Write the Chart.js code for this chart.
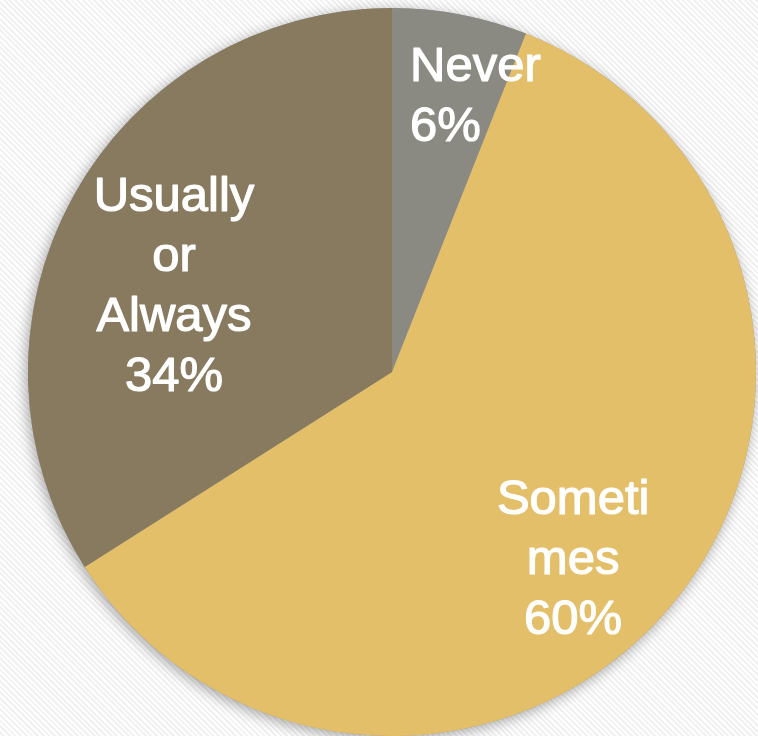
<!DOCTYPE html>
<html>
<head>
<meta charset="utf-8">
<script src="https://cdn.jsdelivr.net/npm/chart.js@4/dist/chart.umd.min.js"></script>
<style>
  html, body {
    margin: 0;
    padding: 0;
    width: 758px;
    height: 736px;
    overflow: hidden;
    background: repeating-linear-gradient(45deg, #ffffff 0px, #ffffff 2px, #f1f1f1 2px, #f1f1f1 4px);
  }
  #wrap { position: relative; width: 758px; height: 736px; }
</style>
</head>
<body>
<div id="wrap"><canvas id="freqChart"></canvas></div>
<script>
// answer frequency split
const categories = ['Never', 'Sometimes', 'Usually or Always'];
const shares = [6, 60, 34];
const sliceLabels = [['Never', '6%'], ['Someti', 'mes', '60%'], ['Usually', 'or', 'Always', '34%']];
const sliceColors = ['#8a8a83', '#e4bf69', '#877a5f'];

// where each label block sits: angle clockwise from 12 o'clock, distance as share of radius
const labelSpots = [
  { angle: 3.7, dist: 0.768, align: 'left' },
  { angle: 135.5, dist: 0.71, align: 'center' },
  { angle: 292, dist: 0.646, align: 'center' }
];

// soft shadow under the whole pie
const pieShadow = {
  id: 'pieShadow',
  beforeDatasetsDraw(chart) {
    const arc = chart.getDatasetMeta(0).data[0];
    if (!arc) return;
    const ctx = chart.ctx;
    ctx.save();
    ctx.shadowColor = 'rgba(0, 0, 0, 0.35)';
    ctx.shadowBlur = 14;
    ctx.shadowOffsetX = -2;
    ctx.shadowOffsetY = 3;
    ctx.fillStyle = '#999';
    ctx.beginPath();
    ctx.arc(arc.x, arc.y, arc.outerRadius, 0, Math.PI * 2);
    ctx.fill();
    ctx.restore();
  }
};

// white multi-line labels inside the slices
const sliceText = {
  id: 'sliceText',
  afterDatasetsDraw(chart) {
    const meta = chart.getDatasetMeta(0);
    const ctx = chart.ctx;
    const lineH = 60;
    const capH = 35;
    ctx.save();
    ctx.fillStyle = '#ffffff';
    ctx.strokeStyle = '#ffffff';
    ctx.lineWidth = 1.2;
    ctx.lineJoin = 'round';
    ctx.font = '49px "Liberation Sans", Arial, sans-serif';
    ctx.textBaseline = 'alphabetic';
    meta.data.forEach((arc, i) => {
      const spot = labelSpots[i];
      const a = spot.angle * Math.PI / 180;
      const cx = arc.x + Math.sin(a) * arc.outerRadius * spot.dist;
      const cy = arc.y - Math.cos(a) * arc.outerRadius * spot.dist;
      const lines = sliceLabels[i];
      ctx.textAlign = spot.align;
      lines.forEach((txt, j) => {
        const y = cy + (j - (lines.length - 1) / 2) * lineH + capH / 2;
        ctx.fillText(txt, cx, y);
        ctx.strokeText(txt, cx, y);
      });
    });
    ctx.restore();
  }
};

new Chart(document.getElementById('freqChart'), {
  type: 'pie',
  data: {
    labels: categories,
    datasets: [{
      data: shares,
      backgroundColor: sliceColors,
      borderWidth: 0
    }]
  },
  options: {
    responsive: true,
    maintainAspectRatio: false,
    animation: false,
    layout: {
      padding: { left: 28, right: 2, top: 8, bottom: 0 }
    },
    plugins: {
      legend: { display: false },
      tooltip: { enabled: false }
    }
  },
  plugins: [pieShadow, sliceText]
});
</script>
</body>
</html>
